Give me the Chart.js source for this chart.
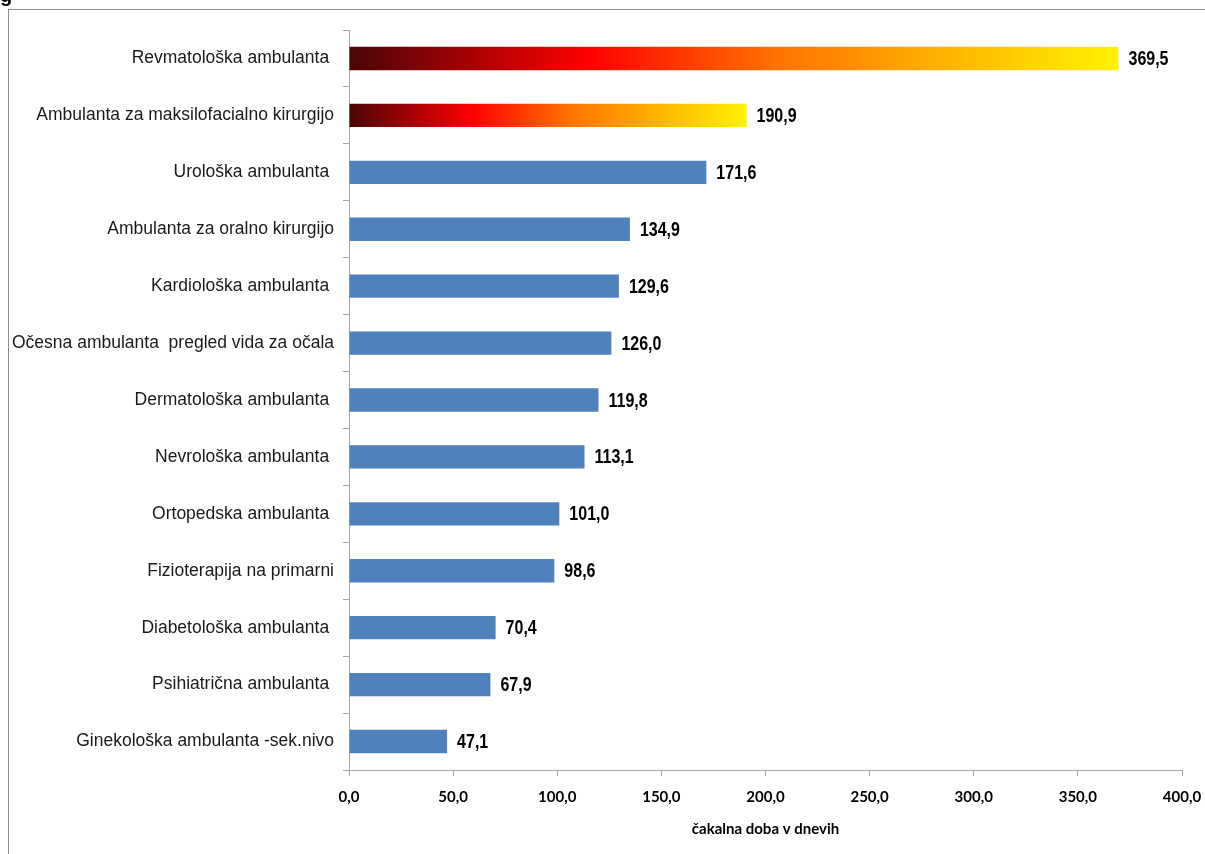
<!DOCTYPE html>
<html>
<head>
<meta charset="utf-8">
<script src="https://cdn.jsdelivr.net/npm/chart.js@4"></script>
<style>
  html, body { margin: 0; padding: 0; background: #ffffff; }
  #wrap { position: relative; width: 1205px; height: 854px; }
</style>
</head>
<body>
<div id="wrap"><canvas id="grafico"></canvas></div>
<script>
const ambulante = [
    "Revmatološka ambulanta ",
    "Ambulanta za maksilofacialno kirurgijo",
    "Urološka ambulanta ",
    "Ambulanta za oralno kirurgijo",
    "Kardiološka ambulanta ",
    "Očesna ambulanta  pregled vida za očala",
    "Dermatološka ambulanta ",
    "Nevrološka ambulanta ",
    "Ortopedska ambulanta ",
    "Fizioterapija na primarni",
    "Diabetološka ambulanta ",
    "Psihiatrična ambulanta ",
    "Ginekološka ambulanta -sek.nivo"
];
const cakalnaDoba = [369.5, 190.9, 171.6, 134.9, 129.6, 126.0, 119.8, 113.1, 101.0, 98.6, 70.4, 67.9, 47.1];
const poudarjeni = [0, 1];
const naslovOsi = "čakalna doba v dnevih";
const osMin = 0;
const osMax = 400;
const osKorak = 50;

const formatiraj = (v) => v.toFixed(1).replace(".", ",");

function barvaStolpca(ctx) {
    const chart = ctx.chart;
    if (!poudarjeni.includes(ctx.dataIndex)) return "#4f81bd";
    const x = chart.scales && chart.scales.x;
    if (!chart.chartArea || !x) return "#ff3300";
    const x0 = x.getPixelForValue(0);
    const x1 = x.getPixelForValue(cakalnaDoba[ctx.dataIndex]);
    const g = chart.ctx.createLinearGradient(x0, 0, x1, 0);
    g.addColorStop(0, "#4a0505");
    g.addColorStop(0.31, "#ff0000");
    g.addColorStop(0.55, "#ff7000");
    g.addColorStop(0.8, "#ffbb00");
    g.addColorStop(1, "#fff200");
    return g;
}

const okvir = {
    id: "okvir",
    beforeDraw(chart) {
        const c = chart.ctx;
        c.save();
        c.fillStyle = "#ffffff";
        c.fillRect(0, 0, chart.width, chart.height);
        c.strokeStyle = "#8c8c8c";
        c.lineWidth = 1;
        c.strokeRect(8.5, 9.5, chart.width + 10, chart.height + 10);
        c.fillStyle = "#000000";
        c.font = "bold 20px 'Liberation Sans'";
        c.textBaseline = "alphabetic";
        c.fillText("g", 0, 2);
        c.restore();
    }
};

// vrednosti ob koncu stolpcev, ozka pisava (Arial Narrow) simulirana s skaliranjem
const vrednosti = {
    id: "vrednosti",
    afterDatasetsDraw(chart) {
        const c = chart.ctx;
        const meta = chart.getDatasetMeta(0);
        const sx = 0.8;
        c.save();
        c.fillStyle = "#000000";
        c.font = "bold 20px 'Liberation Sans', Arial";
        c.textAlign = "left";
        c.textBaseline = "middle";
        meta.data.forEach((bar, i) => {
            c.save();
            c.translate(bar.x + 10, bar.y + 1);
            c.scale(sx, 1);
            c.fillText(formatiraj(cakalnaDoba[i]), 0, 0);
            c.restore();
        });
        c.restore();
    }
};

new Chart(document.getElementById("grafico"), {
    type: "bar",
    data: {
        labels: ambulante,
        datasets: [{
            data: cakalnaDoba,
            backgroundColor: barvaStolpca,
            borderWidth: 0,
            barPercentage: 0.41,
            categoryPercentage: 1
        }]
    },
    options: {
        indexAxis: "y",
        responsive: true,
        maintainAspectRatio: false,
        animation: false,
        layout: {
            padding: { top: 30, right: 23, bottom: 0, left: 0 }
        },
        scales: {
            y: {
                afterFit: (scale) => {
                    scale.width = 349;
                    scale.paddingTop = 0;
                    scale.paddingBottom = 0;
                },
                border: { color: "#a6a6a6", width: 1 },
                grid: {
                    drawOnChartArea: false,
                    color: "#a6a6a6",
                    tickLength: 6,
                    offset: true
                },
                ticks: {
                    color: "#1a1a1a",
                    padding: 9,
                    font: { family: "'Liberation Sans', Arial", size: 17.5 }
                }
            },
            x: {
                min: osMin,
                max: osMax,
                afterFit: (scale) => {
                    scale.height = 84;
                    scale.paddingLeft = 0;
                    scale.paddingRight = 0;
                },
                border: { color: "#a6a6a6", width: 1 },
                grid: {
                    drawOnChartArea: false,
                    color: "#a6a6a6",
                    tickLength: 6
                },
                ticks: {
                    stepSize: osKorak,
                    color: "#000000",
                    padding: 12,
                    maxRotation: 0,
                    font: { family: "Lato", size: 15, weight: "bold" },
                    callback: (v) => formatiraj(v)
                },
                title: {
                    display: true,
                    text: naslovOsi,
                    color: "#000000",
                    padding: { top: 10, bottom: 16 },
                    font: { family: "Lato", size: 15, weight: "bold" }
                }
            }
        },
        plugins: {
            legend: { display: false },
            tooltip: { enabled: false }
        }
    },
    plugins: [okvir, vrednosti]
});
</script>
</body>
</html>
